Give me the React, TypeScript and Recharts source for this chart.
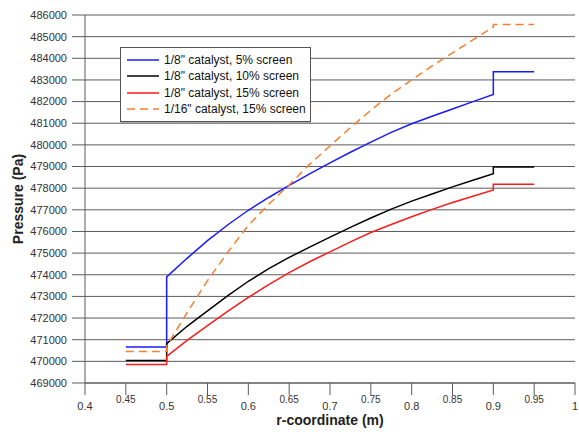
import React from 'react';
import {
  LineChart,
  Line,
  XAxis,
  YAxis,
  CartesianGrid,
} from 'recharts';

// r positions (m); 0.5 and 0.9 appear twice for the step jumps
const rCoord = [
  0.45, 0.5, 0.5, 0.525, 0.55, 0.575, 0.6, 0.625, 0.65, 0.675, 0.7,
  0.725, 0.75, 0.775, 0.8, 0.825, 0.85, 0.875, 0.9, 0.9, 0.95,
];

// pressure (Pa) for each case
const cat8Screen5 = [
  470660, 470660, 473900, 474760, 475580, 476310, 476980, 477570, 478130, 478660, 479170,
  479660, 480130, 480580, 480975, 481320, 481660, 482000, 482330, 483380, 483380,
];
const cat8Screen10 = [
  470035, 470035, 470820, 471620, 472330, 473040, 473700, 474280, 474800, 475280, 475740,
  476190, 476620, 477030, 477400, 477730, 478060, 478370, 478670, 478980, 478980,
];
const cat8Screen15 = [
  469850, 469850, 470230, 470970, 471650, 472320, 472950, 473540, 474100, 474600, 475060,
  475520, 475950, 476320, 476680, 477020, 477340, 477630, 477920, 478180, 478180,
];
const cat16Screen15 = [
  470460, 470460, 470700, 472250, 473730, 475050, 476280, 477260, 478150, 479100, 479950,
  480800, 481600, 482350, 483000, 483650, 484250, 484850, 485450, 485560, 485560,
];

const xTicks = [0.4, 0.45, 0.5, 0.55, 0.6, 0.65, 0.7, 0.75, 0.8, 0.85, 0.9, 0.95, 1];
const yTicks = [
  469000, 470000, 471000, 472000, 473000, 474000, 475000, 476000, 477000,
  478000, 479000, 480000, 481000, 482000, 483000, 484000, 485000, 486000,
];

const series = [
  { key: 's5', name: '1/8" catalyst, 5% screen', color: '#1a1aff', dash: undefined },
  { key: 's10', name: '1/8" catalyst, 10% screen', color: '#000000', dash: undefined },
  { key: 's15', name: '1/8" catalyst, 15% screen', color: '#ff1a1a', dash: undefined },
  { key: 's16', name: '1/16" catalyst, 15% screen', color: '#f57f30', dash: '8 5' },
];

const data = rCoord.map((r, i) => ({
  r,
  s5: cat8Screen5[i],
  s10: cat8Screen10[i],
  s15: cat8Screen15[i],
  s16: cat16Screen15[i],
}));

const FONT = 'Arial, "Liberation Sans", sans-serif';
const GRID = '#5c5c5c';

const XTick = (props: any) => {
  const { x, y, payload } = props;
  const v = payload.value as number;
  const half = Math.round(v * 100) % 10 !== 0;
  return (
    <text
      x={x}
      y={y + (half ? 6 : 13)}
      textAnchor="middle"
      fontSize={half ? 10 : 11}
      fill="#333"
      fontFamily={FONT}
    >
      {String(Number(v.toFixed(2)))}
    </text>
  );
};

// legend drawn over the plot, top-left
const LegendBox = () => (
  <div
    style={{
      position: 'absolute',
      left: 120,
      top: 47,
      border: '1px solid #555',
      background: '#fff',
      boxShadow: '0 1px 0 #aaa',
      padding: '4px 6px',
      fontFamily: FONT,
      fontSize: 12,
      color: '#111',
      width: 177,
      whiteSpace: 'nowrap',
    }}
  >
    {series.map((s) => (
      <div key={s.key} style={{ display: 'flex', alignItems: 'center', height: 16.3 }}>
        <svg width={32} height={4} style={{ marginRight: 5, flexShrink: 0 }}>
          <line x1={0} y1={2} x2={32} y2={2} stroke={s.color} strokeWidth={1.5} strokeDasharray={s.dash} />
        </svg>
        <span>{s.name}</span>
      </div>
    ))}
  </div>
);

export default function App() {
  return (
    <div style={{ position: 'absolute', left: 0, top: 0, width: 579, height: 435, background: '#fff' }}>
      <LineChart width={579} height={435} data={data} margin={{ top: 15, right: 4, left: 0, bottom: 0 }}>
        <CartesianGrid horizontal vertical={false} stroke={GRID} strokeDasharray="" />
        <XAxis
          dataKey="r"
          type="number"
          domain={[0.4, 1]}
          ticks={xTicks}
          interval={0}
          height={52}
          tickSize={12}
          stroke={GRID}
          tick={<XTick />}
          label={{
            value: 'r-coordinate (m)',
            position: 'insideBottom',
            offset: 10,
            style: { fontFamily: FONT, fontSize: 14, fontWeight: 'bold', fill: '#222' },
          }}
        />
        <YAxis
          type="number"
          domain={[469000, 486000]}
          ticks={yTicks}
          interval={0}
          width={85}
          tickSize={13}
          tickMargin={5}
          stroke={GRID}
          tick={{ fontFamily: FONT, fontSize: 11, fill: '#333' }}
          label={{
            value: 'Pressure (Pa)',
            angle: -90,
            position: 'insideLeft',
            offset: 18,
            style: { fontFamily: FONT, fontSize: 14, fontWeight: 'bold', fill: '#222', textAnchor: 'middle' },
          }}
        />
        {series.map((s) => (
          <Line
            key={s.key}
            type="linear"
            dataKey={s.key}
            name={s.name}
            stroke={s.color}
            strokeWidth={1.5}
            strokeDasharray={s.dash}
            dot={false}
            activeDot={false}
            isAnimationActive={false}
          />
        ))}
      </LineChart>
      <LegendBox />
    </div>
  );
}
